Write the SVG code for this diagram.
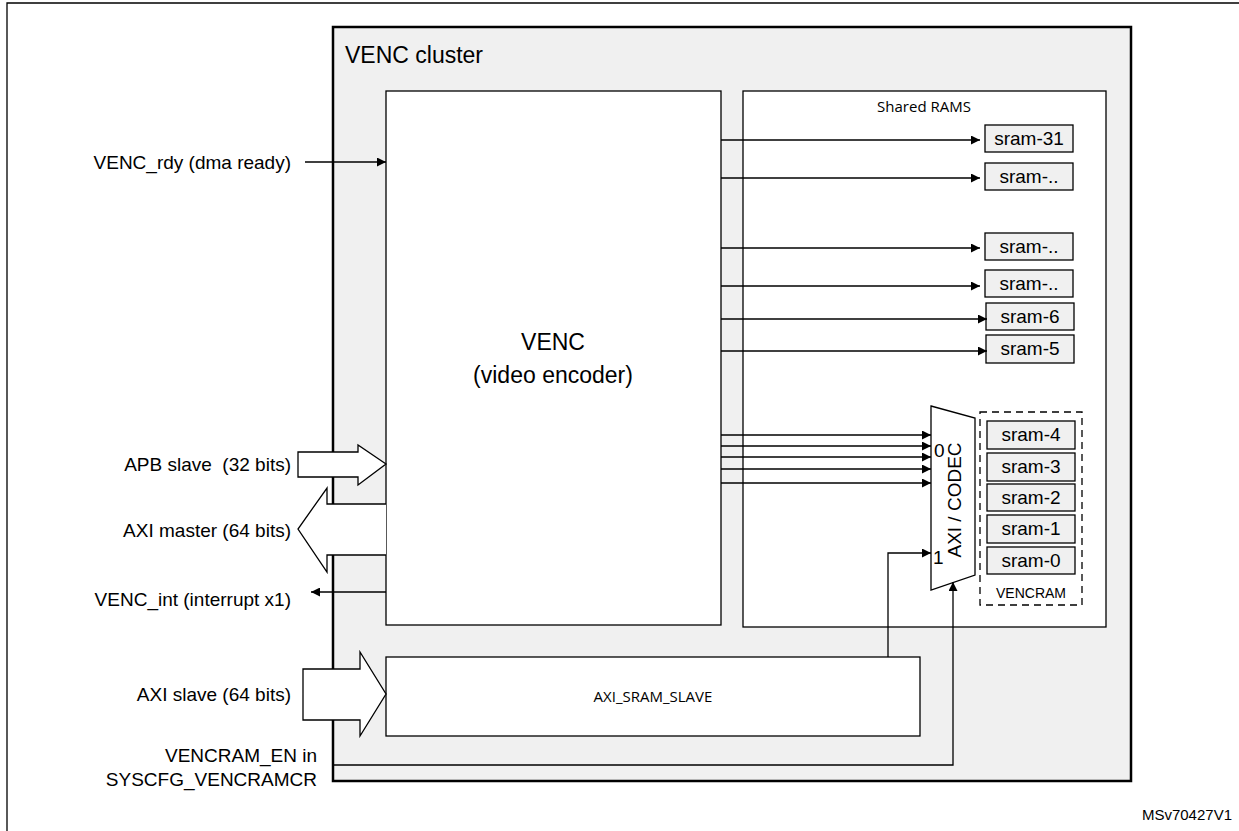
<svg xmlns="http://www.w3.org/2000/svg" width="1239" height="831" viewBox="0 0 1239 831">
<style>
text{font-family:"Liberation Sans",Arial,sans-serif;fill:#000}
.b{fill:#fff;stroke:#000;stroke-width:1.3}
.s{fill:#f0f0f0;stroke:#000;stroke-width:1.3}
.l{fill:none;stroke:#000;stroke-width:1.3}
.lb{font-size:19px;text-anchor:end}
.sr{font-size:19px;text-anchor:middle}
.c{font-family:"Open Sans",sans-serif;font-size:15px;text-anchor:middle}
</style>
<defs>
<marker id="a" viewBox="0 0 10 10" refX="10" refY="5" markerWidth="9" markerHeight="9" markerUnits="userSpaceOnUse" orient="auto"><path d="M0,0 L10,5 L0,10 z" fill="#000"/></marker>
</defs>
<rect width="1239" height="831" fill="#fff"/>
<path d="M7,831 V3 H1239" class="l" stroke-width="2"/>
<g id="cluster"><rect x="333" y="27" width="798" height="754" fill="#f0f0f0" stroke="#000" stroke-width="2.5"/><text x="345" y="63" font-size="23">VENC cluster</text></g>
<g id="venc"><rect x="386" y="91" width="335" height="534" class="b"/><text x="553" y="350" font-size="23" text-anchor="middle">VENC</text><text x="553" y="383" font-size="23" text-anchor="middle">(video encoder)</text></g>
<g id="shared"><rect x="743" y="91" width="363" height="536" class="b"/><text x="924" y="112" class="c">Shared RAMS</text></g>
<g id="sram31"><rect x="985" y="125" width="88" height="27" class="s"/><text x="1029" y="145" class="sr">sram-31</text></g>
<g id="sramA"><rect x="985" y="163" width="88" height="27" class="s"/><text x="1029" y="183" class="sr">sram-..</text></g>
<g id="sramB"><rect x="985" y="233" width="88" height="27" class="s"/><text x="1029" y="253" class="sr">sram-..</text></g>
<g id="sramC"><rect x="985" y="270" width="88" height="27" class="s"/><text x="1029" y="290" class="sr">sram-..</text></g>
<g id="sram6"><rect x="986" y="303" width="88" height="27" class="s"/><text x="1030" y="323" class="sr">sram-6</text></g>
<g id="sram5"><rect x="986" y="335" width="88" height="28" class="s"/><text x="1030" y="355" class="sr">sram-5</text></g>
<g id="vencram"><rect x="980" y="412" width="102" height="193" fill="none" stroke="#000" stroke-width="1.3" stroke-dasharray="7,5"/><text x="1031" y="598" font-size="14" text-anchor="middle">VENCRAM</text></g>
<g id="sram4"><rect x="987" y="421" width="88" height="28" class="s"/><text x="1031" y="441" class="sr">sram-4</text></g>
<g id="sram3"><rect x="987" y="453" width="88" height="28" class="s"/><text x="1031" y="473" class="sr">sram-3</text></g>
<g id="sram2"><rect x="987" y="484" width="88" height="27" class="s"/><text x="1031" y="504" class="sr">sram-2</text></g>
<g id="sram1"><rect x="987" y="515" width="88" height="28" class="s"/><text x="1031" y="535" class="sr">sram-1</text></g>
<g id="sram0"><rect x="987" y="547" width="88" height="27" class="s"/><text x="1031" y="567" class="sr">sram-0</text></g>
<g id="mux"><path d="M931,406 L975,418 L975,575 L931,590 Z" class="b"/><text transform="translate(961,500) rotate(-90)" font-size="19" text-anchor="middle">AXI / CODEC</text><text x="934" y="457" font-size="19">0</text><text x="933" y="564" font-size="19">1</text></g>
<g id="axisram"><rect x="386" y="657" width="534" height="79" class="b"/><text x="653" y="702" class="c">AXI_SRAM_SLAVE</text></g>
<g id="apb"><path d="M298,452 H358 V445 L386,464 L358,485 V477 H298 Z" class="b"/></g>
<g id="aximaster"><path d="M386,504 H327 V488 L298,529 L327,572 V555 H386" class="b"/></g>
<g id="axislave"><path d="M303,669 H360 V652 L386,694 L360,736 V720 H303 Z" class="b"/></g>
<g id="connectors">
<path d="M305,162 H386" class="l" marker-end="url(#a)"/>
<path d="M386,592 H311" class="l" marker-end="url(#a)"/>
<path d="M721,140 H980" class="l" marker-end="url(#a)"/>
<path d="M721,178 H980" class="l" marker-end="url(#a)"/>
<path d="M721,248 H980" class="l" marker-end="url(#a)"/>
<path d="M721,286 H980" class="l" marker-end="url(#a)"/>
<path d="M721,319 H987" class="l" marker-end="url(#a)"/>
<path d="M721,351 H987" class="l" marker-end="url(#a)"/>
<path d="M721,435 H931" class="l" marker-end="url(#a)"/>
<path d="M721,446 H931" class="l" marker-end="url(#a)"/>
<path d="M721,457 H931" class="l" marker-end="url(#a)"/>
<path d="M721,469 H931" class="l" marker-end="url(#a)"/>
<path d="M721,483 H931" class="l" marker-end="url(#a)"/>
<path d="M888,657 V553 H931" class="l" marker-end="url(#a)"/>
<path d="M333,765 H953 V582" class="l" marker-end="url(#a)"/>
</g>
<text x="291" y="169" class="lb">VENC_rdy (dma ready)</text>
<text x="291" y="471" class="lb" xml:space="preserve">APB slave  (32 bits)</text>
<text x="291" y="537" class="lb">AXI master (64 bits)</text>
<text x="291" y="606" class="lb">VENC_int (interrupt x1)</text>
<text x="291" y="701" class="lb">AXI slave (64 bits)</text>
<text x="317" y="762" class="lb">VENCRAM_EN in</text>
<text x="317" y="786" class="lb">SYSCFG_VENCRAMCR</text>
<text x="1232" y="820" font-size="15" text-anchor="end">MSv70427V1</text>
</svg>
